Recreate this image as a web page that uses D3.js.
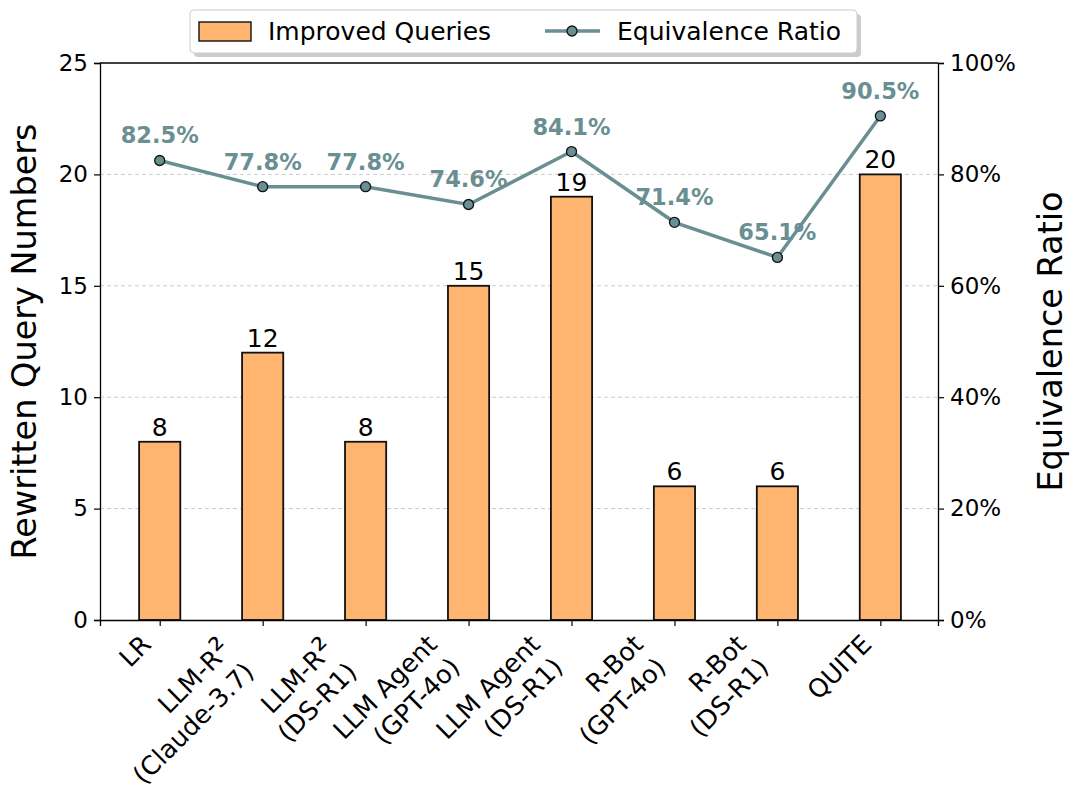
<!DOCTYPE html>
<html>
<head>
<meta charset="utf-8">
<script src="https://cdn.jsdelivr.net/npm/d3@7"></script>
<style>
  body { margin: 0; background: #fff; }
  text { font-family: "DejaVu Sans", sans-serif; }
</style>
</head>
<body>
<svg id="chart" width="1080" height="800"></svg>
<script>
// Data
const categories = [
    ['LR'],
    ['LLM-R²', '(Claude-3.7)'],
    ['LLM-R²', '(DS-R1)'],
    ['LLM Agent', '(GPT-4o)'],
    ['LLM Agent', '(DS-R1)'],
    ['R-Bot', '(GPT-4o)'],
    ['R-Bot', '(DS-R1)'],
    ['QUITE'],
];
const improvedQueries = [8, 12, 8, 15, 19, 6, 6, 20];
const equivalenceRatio = [82.5, 77.8, 77.8, 74.6, 84.1, 71.4, 65.1, 90.5];
const leftTicks = [0, 5, 10, 15, 20, 25];
const rightTicks = [0, 20, 40, 60, 80, 100];

const barColor = '#FFB570';
const lineColor = '#6A8F92';

// Layout
const plotLeft = 100, plotRight = 938, plotTop = 63, plotBottom = 620;

let svg = d3.select('#chart');

let x = d3.scaleLinear().domain([-0.58, 7.56]).range([plotLeft, plotRight]);
let yL = d3.scaleLinear().domain([0, 25]).range([plotBottom, plotTop]);
let yR = d3.scaleLinear().domain([0, 100]).range([plotBottom, plotTop]);
const barW = x(0.4) - x(0);

// Grid
svg.append('g')
    .selectAll('line')
    .data(leftTicks.filter((d) => d > 0 && d < 25))
    .enter()
    .append('line')
    .attr('x1', plotLeft)
    .attr('x2', plotRight)
    .attr('y1', (d) => yL(d))
    .attr('y2', (d) => yL(d))
    .attr('stroke', '#cccccc')
    .attr('stroke-width', 1)
    .attr('stroke-dasharray', '4,3');

// Bars
svg.append('g')
    .selectAll('rect')
    .data(improvedQueries)
    .enter()
    .append('rect')
    .attr('x', (d, i) => x(i) - barW / 2)
    .attr('y', (d) => yL(d))
    .attr('width', barW)
    .attr('height', (d) => yL(0) - yL(d))
    .attr('fill', barColor)
    .attr('stroke', '#111')
    .attr('stroke-width', 1.8);

// Bar value labels
svg.append('g')
    .selectAll('text')
    .data(improvedQueries)
    .enter()
    .append('text')
    .attr('x', (d, i) => x(i))
    .attr('y', (d) => yL(d) - 6)
    .attr('text-anchor', 'middle')
    .attr('font-size', 25)
    .attr('fill', '#000')
    .text((d) => d);

// Line
let line = d3.line()
    .x((d, i) => x(i))
    .y((d) => yR(d));

svg.append('path')
    .datum(equivalenceRatio)
    .attr('d', line)
    .attr('fill', 'none')
    .attr('stroke', lineColor)
    .attr('stroke-width', 3.5);

svg.append('g')
    .selectAll('circle')
    .data(equivalenceRatio)
    .enter()
    .append('circle')
    .attr('cx', (d, i) => x(i))
    .attr('cy', (d) => yR(d))
    .attr('r', 5)
    .attr('fill', lineColor)
    .attr('stroke', '#111')
    .attr('stroke-width', 1.3);

svg.append('g')
    .selectAll('text')
    .data(equivalenceRatio)
    .enter()
    .append('text')
    .attr('x', (d, i) => x(i))
    .attr('y', (d) => yR(d) - 17)
    .attr('text-anchor', 'middle')
    .attr('font-size', 22.5)
    .attr('font-weight', 'bold')
    .attr('fill', lineColor)
    .text((d) => d.toFixed(1) + '%');

// Axes
let axisL = svg.append('g')
    .attr('transform', 'translate(' + plotLeft + ',0)')
    .call(d3.axisLeft(yL).tickValues(leftTicks).tickSize(6).tickPadding(6));
let axisR = svg.append('g')
    .attr('transform', 'translate(' + plotRight + ',0)')
    .call(d3.axisRight(yR).tickValues(rightTicks).tickFormat((d) => d + '%').tickSize(6).tickPadding(6));
let axisB = svg.append('g')
    .attr('transform', 'translate(0,' + plotBottom + ')')
    .call(d3.axisBottom(x).tickValues(d3.range(categories.length)).tickFormat('').tickSize(6));

[axisL, axisR, axisB].forEach((a) => {
    a.select('.domain').attr('stroke', '#000').attr('stroke-width', 1.3);
    a.selectAll('.tick line').attr('stroke', '#000').attr('stroke-width', 1.2);
    a.selectAll('.tick text').attr('font-size', 23).attr('fill', '#000')
        .attr('font-family', '"DejaVu Sans", sans-serif');
});
// top spine
svg.append('line')
    .attr('x1', plotLeft).attr('x2', plotRight)
    .attr('y1', plotTop).attr('y2', plotTop)
    .attr('stroke', '#000').attr('stroke-width', 1.3);

// Rotated category labels, lines right aligned, box top-right at the tick
let labels = svg.append('g')
    .selectAll('g')
    .data(categories)
    .enter()
    .append('g')
    .attr('class', 'xlabel');

labels.each(function (d, i) {
    let g = d3.select(this);
    let inner = g.append('g').attr('transform', 'rotate(-45)');
    let n = d.length;
    d.forEach((t, k) => {
        let txt = inner.append('text')
            .attr('x', 0)
            .attr('y', (k - (n - 1)) * 32)
            .attr('text-anchor', 'end')
            .attr('font-size', 25.5)
            .attr('fill', '#000');
        // larger superscript, like the mathtext one
        let parts = t.split('²');
        txt.append('tspan').text(parts[0]);
        if (parts.length > 1) {
            txt.append('tspan').attr('font-size', 33).text('²');
            if (parts[1]) txt.append('tspan').text(parts[1]);
        }
    });
    let box = this.getBoundingClientRect();
    let tx = x(i) - 3 - box.right;
    let ty = 629 - box.top;
    g.attr('transform', 'translate(' + tx + ',' + ty + ')');
});

// Axis titles
svg.append('text')
    .attr('transform', 'translate(36,' + (plotTop + plotBottom) / 2 + ') rotate(-90)')
    .attr('text-anchor', 'middle')
    .attr('font-size', 33.5)
    .text('Rewritten Query Numbers');

svg.append('text')
    .attr('transform', 'translate(1062,' + (plotTop + plotBottom) / 2 + ') rotate(-90)')
    .attr('text-anchor', 'middle')
    .attr('font-size', 33.5)
    .text('Equivalence Ratio');

// Legend
let legend = svg.append('g').attr('transform', 'translate(190,10)');
legend.append('rect')
    .attr('x', 4).attr('y', 4)
    .attr('width', 667).attr('height', 43)
    .attr('rx', 4)
    .attr('fill', '#999').attr('opacity', 0.5);
legend.append('rect')
    .attr('x', 0).attr('y', 0)
    .attr('width', 667).attr('height', 43)
    .attr('rx', 4)
    .attr('fill', '#fff').attr('stroke', '#cccccc').attr('stroke-width', 1);
legend.append('rect')
    .attr('x', 9).attr('y', 12)
    .attr('width', 52).attr('height', 19)
    .attr('fill', barColor).attr('stroke', '#111').attr('stroke-width', 1.4);
legend.append('text')
    .attr('x', 78).attr('y', 30)
    .attr('font-size', 25)
    .text('Improved Queries');
legend.append('line')
    .attr('x1', 355).attr('x2', 410)
    .attr('y1', 21).attr('y2', 21)
    .attr('stroke', lineColor).attr('stroke-width', 3.5);
legend.append('circle')
    .attr('cx', 382).attr('cy', 21).attr('r', 5)
    .attr('fill', lineColor).attr('stroke', '#111').attr('stroke-width', 1.3);
legend.append('text')
    .attr('x', 427).attr('y', 30)
    .attr('font-size', 25)
    .text('Equivalence Ratio');
</script>
</body>
</html>
